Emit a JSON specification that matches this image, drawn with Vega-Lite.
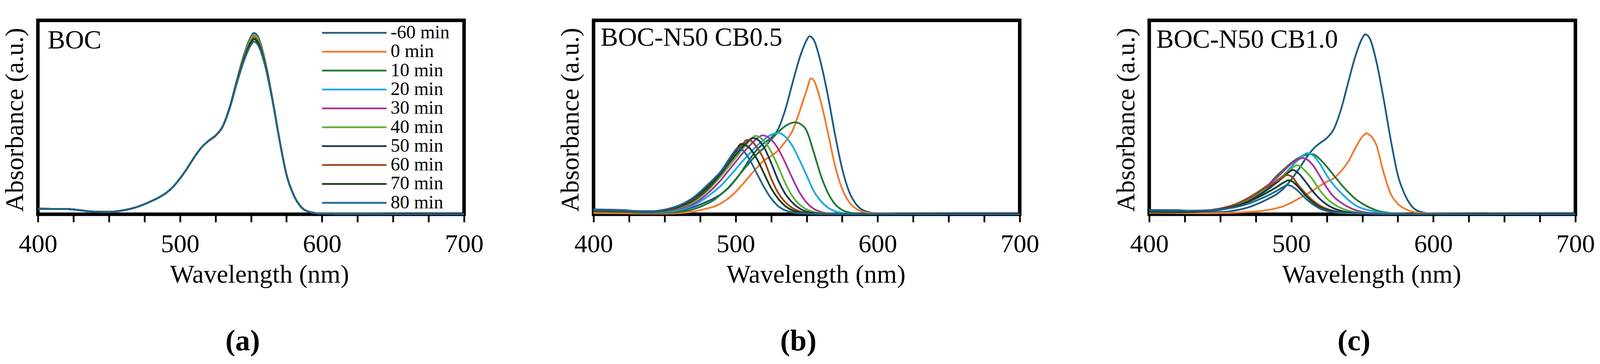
{
"$schema":"https://vega.github.io/schema/vega-lite/v6.json",
"padding":{"left":0,"top":47,"right":0,"bottom":0},
"config":{
"font":"Liberation Serif",
"view":{"stroke":"black","strokeWidth":9},
"axis":{"labelFont":"Liberation Serif","titleFont":"Liberation Serif","labelColor":"black","titleColor":"black","titleFontWeight":"normal","grid":false},
"axisX":{"domain":false,"tickSize":20,"tickWidth":4.5,"tickColor":"black","labelFontSize":66,"labelPadding":24,"labelFlush":false,"labelOverlap":false,"titleFontSize":66,"titlePadding":13},
"axisY":{"titleFontSize":66,"titlePadding":25},
"legend":{"symbolType":"stroke","symbolSize":27225,"symbolStrokeWidth":4.5,"clipHeight":48,"rowPadding":0.3,"labelFontSize":48,"labelFont":"Liberation Serif","labelColor":"black","labelOffset":8,"labelLimit":400,"padding":0},
"title":{"font":"Liberation Serif","color":"black"}
},
"datasets":{
"a":[
{"t":-60,"w":400,"v":0.028},{"t":-60,"w":420,"v":0.027},{"t":-60,"w":440,"v":0.013},{"t":-60,"w":450,"v":0.012},{"t":-60,"w":460,"v":0.02},{"t":-60,"w":470,"v":0.038},{"t":-60,"w":480,"v":0.068},{"t":-60,"w":485,"v":0.086},{"t":-60,"w":490,"v":0.108},{"t":-60,"w":495,"v":0.14},{"t":-60,"w":500,"v":0.184},{"t":-60,"w":505,"v":0.236},{"t":-60,"w":510,"v":0.293},{"t":-60,"w":515,"v":0.343},{"t":-60,"w":520,"v":0.378},{"t":-60,"w":525,"v":0.406},{"t":-60,"w":530,"v":0.452},{"t":-60,"w":535,"v":0.552},{"t":-60,"w":540,"v":0.69},{"t":-60,"w":545,"v":0.822},{"t":-60,"w":550,"v":0.916},{"t":-60,"w":552,"v":0.935},{"t":-60,"w":555,"v":0.915},{"t":-60,"w":560,"v":0.79},{"t":-60,"w":565,"v":0.6},{"t":-60,"w":570,"v":0.388},{"t":-60,"w":575,"v":0.204},{"t":-60,"w":580,"v":0.1},{"t":-60,"w":585,"v":0.04},{"t":-60,"w":590,"v":0.015},{"t":-60,"w":600,"v":0.003},{"t":-60,"w":620,"v":0.002},{"t":-60,"w":700,"v":0.001},
{"t":0,"w":400,"v":0.028},{"t":0,"w":420,"v":0.027},{"t":0,"w":440,"v":0.013},{"t":0,"w":450,"v":0.012},{"t":0,"w":460,"v":0.02},{"t":0,"w":470,"v":0.038},{"t":0,"w":480,"v":0.068},{"t":0,"w":485,"v":0.086},{"t":0,"w":490,"v":0.108},{"t":0,"w":495,"v":0.14},{"t":0,"w":500,"v":0.184},{"t":0,"w":505,"v":0.236},{"t":0,"w":510,"v":0.293},{"t":0,"w":515,"v":0.343},{"t":0,"w":520,"v":0.376},{"t":0,"w":525,"v":0.403},{"t":0,"w":530,"v":0.449},{"t":0,"w":535,"v":0.55},{"t":0,"w":540,"v":0.686},{"t":0,"w":545,"v":0.815},{"t":0,"w":550,"v":0.906},{"t":0,"w":552,"v":0.925},{"t":0,"w":555,"v":0.905},{"t":0,"w":560,"v":0.784},{"t":0,"w":565,"v":0.598},{"t":0,"w":570,"v":0.387},{"t":0,"w":575,"v":0.204},{"t":0,"w":580,"v":0.1},{"t":0,"w":585,"v":0.04},{"t":0,"w":590,"v":0.015},{"t":0,"w":600,"v":0.003},{"t":0,"w":620,"v":0.002},{"t":0,"w":700,"v":0.001},
{"t":10,"w":400,"v":0.028},{"t":10,"w":420,"v":0.027},{"t":10,"w":440,"v":0.013},{"t":10,"w":450,"v":0.012},{"t":10,"w":460,"v":0.02},{"t":10,"w":470,"v":0.038},{"t":10,"w":480,"v":0.068},{"t":10,"w":485,"v":0.086},{"t":10,"w":490,"v":0.108},{"t":10,"w":495,"v":0.14},{"t":10,"w":500,"v":0.184},{"t":10,"w":505,"v":0.236},{"t":10,"w":510,"v":0.293},{"t":10,"w":515,"v":0.343},{"t":10,"w":520,"v":0.378},{"t":10,"w":525,"v":0.406},{"t":10,"w":530,"v":0.452},{"t":10,"w":535,"v":0.552},{"t":10,"w":540,"v":0.688},{"t":10,"w":545,"v":0.812},{"t":10,"w":550,"v":0.902},{"t":10,"w":552,"v":0.92},{"t":10,"w":555,"v":0.901},{"t":10,"w":560,"v":0.781},{"t":10,"w":565,"v":0.598},{"t":10,"w":570,"v":0.388},{"t":10,"w":575,"v":0.204},{"t":10,"w":580,"v":0.1},{"t":10,"w":585,"v":0.04},{"t":10,"w":590,"v":0.015},{"t":10,"w":600,"v":0.003},{"t":10,"w":620,"v":0.002},{"t":10,"w":700,"v":0.001},
{"t":20,"w":400,"v":0.028},{"t":20,"w":420,"v":0.027},{"t":20,"w":440,"v":0.013},{"t":20,"w":450,"v":0.012},{"t":20,"w":460,"v":0.02},{"t":20,"w":470,"v":0.038},{"t":20,"w":480,"v":0.068},{"t":20,"w":485,"v":0.086},{"t":20,"w":490,"v":0.108},{"t":20,"w":495,"v":0.14},{"t":20,"w":500,"v":0.184},{"t":20,"w":505,"v":0.236},{"t":20,"w":510,"v":0.293},{"t":20,"w":515,"v":0.343},{"t":20,"w":520,"v":0.378},{"t":20,"w":525,"v":0.406},{"t":20,"w":530,"v":0.452},{"t":20,"w":535,"v":0.55},{"t":20,"w":540,"v":0.685},{"t":20,"w":545,"v":0.808},{"t":20,"w":550,"v":0.897},{"t":20,"w":552,"v":0.915},{"t":20,"w":555,"v":0.896},{"t":20,"w":560,"v":0.778},{"t":20,"w":565,"v":0.596},{"t":20,"w":570,"v":0.387},{"t":20,"w":575,"v":0.204},{"t":20,"w":580,"v":0.1},{"t":20,"w":585,"v":0.04},{"t":20,"w":590,"v":0.015},{"t":20,"w":600,"v":0.003},{"t":20,"w":620,"v":0.002},{"t":20,"w":700,"v":0.001},
{"t":30,"w":400,"v":0.028},{"t":30,"w":420,"v":0.027},{"t":30,"w":440,"v":0.013},{"t":30,"w":450,"v":0.012},{"t":30,"w":460,"v":0.02},{"t":30,"w":470,"v":0.038},{"t":30,"w":480,"v":0.068},{"t":30,"w":485,"v":0.086},{"t":30,"w":490,"v":0.108},{"t":30,"w":495,"v":0.14},{"t":30,"w":500,"v":0.184},{"t":30,"w":505,"v":0.236},{"t":30,"w":510,"v":0.293},{"t":30,"w":515,"v":0.343},{"t":30,"w":520,"v":0.378},{"t":30,"w":525,"v":0.406},{"t":30,"w":530,"v":0.452},{"t":30,"w":535,"v":0.551},{"t":30,"w":540,"v":0.687},{"t":30,"w":545,"v":0.81},{"t":30,"w":550,"v":0.9},{"t":30,"w":552,"v":0.918},{"t":30,"w":555,"v":0.899},{"t":30,"w":560,"v":0.78},{"t":30,"w":565,"v":0.597},{"t":30,"w":570,"v":0.388},{"t":30,"w":575,"v":0.204},{"t":30,"w":580,"v":0.1},{"t":30,"w":585,"v":0.04},{"t":30,"w":590,"v":0.015},{"t":30,"w":600,"v":0.003},{"t":30,"w":620,"v":0.002},{"t":30,"w":700,"v":0.001},
{"t":40,"w":400,"v":0.028},{"t":40,"w":420,"v":0.027},{"t":40,"w":440,"v":0.013},{"t":40,"w":450,"v":0.012},{"t":40,"w":460,"v":0.02},{"t":40,"w":470,"v":0.038},{"t":40,"w":480,"v":0.068},{"t":40,"w":485,"v":0.086},{"t":40,"w":490,"v":0.108},{"t":40,"w":495,"v":0.14},{"t":40,"w":500,"v":0.184},{"t":40,"w":505,"v":0.236},{"t":40,"w":510,"v":0.293},{"t":40,"w":515,"v":0.343},{"t":40,"w":520,"v":0.378},{"t":40,"w":525,"v":0.406},{"t":40,"w":530,"v":0.452},{"t":40,"w":535,"v":0.552},{"t":40,"w":540,"v":0.688},{"t":40,"w":545,"v":0.812},{"t":40,"w":550,"v":0.902},{"t":40,"w":552,"v":0.92},{"t":40,"w":555,"v":0.901},{"t":40,"w":560,"v":0.781},{"t":40,"w":565,"v":0.598},{"t":40,"w":570,"v":0.388},{"t":40,"w":575,"v":0.204},{"t":40,"w":580,"v":0.1},{"t":40,"w":585,"v":0.04},{"t":40,"w":590,"v":0.015},{"t":40,"w":600,"v":0.003},{"t":40,"w":620,"v":0.002},{"t":40,"w":700,"v":0.001},
{"t":50,"w":400,"v":0.028},{"t":50,"w":420,"v":0.027},{"t":50,"w":440,"v":0.013},{"t":50,"w":450,"v":0.012},{"t":50,"w":460,"v":0.02},{"t":50,"w":470,"v":0.038},{"t":50,"w":480,"v":0.068},{"t":50,"w":485,"v":0.086},{"t":50,"w":490,"v":0.108},{"t":50,"w":495,"v":0.14},{"t":50,"w":500,"v":0.184},{"t":50,"w":505,"v":0.236},{"t":50,"w":510,"v":0.293},{"t":50,"w":515,"v":0.343},{"t":50,"w":520,"v":0.378},{"t":50,"w":525,"v":0.406},{"t":50,"w":530,"v":0.452},{"t":50,"w":535,"v":0.548},{"t":50,"w":540,"v":0.68},{"t":50,"w":545,"v":0.801},{"t":50,"w":550,"v":0.888},{"t":50,"w":552,"v":0.905},{"t":50,"w":555,"v":0.887},{"t":50,"w":560,"v":0.772},{"t":50,"w":565,"v":0.594},{"t":50,"w":570,"v":0.386},{"t":50,"w":575,"v":0.204},{"t":50,"w":580,"v":0.1},{"t":50,"w":585,"v":0.04},{"t":50,"w":590,"v":0.015},{"t":50,"w":600,"v":0.003},{"t":50,"w":620,"v":0.002},{"t":50,"w":700,"v":0.001},
{"t":60,"w":400,"v":0.028},{"t":60,"w":420,"v":0.027},{"t":60,"w":440,"v":0.013},{"t":60,"w":450,"v":0.012},{"t":60,"w":460,"v":0.02},{"t":60,"w":470,"v":0.038},{"t":60,"w":480,"v":0.068},{"t":60,"w":485,"v":0.086},{"t":60,"w":490,"v":0.108},{"t":60,"w":495,"v":0.14},{"t":60,"w":500,"v":0.184},{"t":60,"w":505,"v":0.236},{"t":60,"w":510,"v":0.293},{"t":60,"w":515,"v":0.343},{"t":60,"w":520,"v":0.378},{"t":60,"w":525,"v":0.406},{"t":60,"w":530,"v":0.452},{"t":60,"w":535,"v":0.549},{"t":60,"w":540,"v":0.683},{"t":60,"w":545,"v":0.805},{"t":60,"w":550,"v":0.892},{"t":60,"w":552,"v":0.91},{"t":60,"w":555,"v":0.891},{"t":60,"w":560,"v":0.775},{"t":60,"w":565,"v":0.595},{"t":60,"w":570,"v":0.387},{"t":60,"w":575,"v":0.204},{"t":60,"w":580,"v":0.1},{"t":60,"w":585,"v":0.04},{"t":60,"w":590,"v":0.015},{"t":60,"w":600,"v":0.003},{"t":60,"w":620,"v":0.002},{"t":60,"w":700,"v":0.001},
{"t":70,"w":400,"v":0.028},{"t":70,"w":420,"v":0.027},{"t":70,"w":440,"v":0.013},{"t":70,"w":450,"v":0.012},{"t":70,"w":460,"v":0.02},{"t":70,"w":470,"v":0.038},{"t":70,"w":480,"v":0.068},{"t":70,"w":485,"v":0.086},{"t":70,"w":490,"v":0.108},{"t":70,"w":495,"v":0.14},{"t":70,"w":500,"v":0.184},{"t":70,"w":505,"v":0.236},{"t":70,"w":510,"v":0.293},{"t":70,"w":515,"v":0.343},{"t":70,"w":520,"v":0.378},{"t":70,"w":525,"v":0.406},{"t":70,"w":530,"v":0.452},{"t":70,"w":535,"v":0.547},{"t":70,"w":540,"v":0.679},{"t":70,"w":545,"v":0.799},{"t":70,"w":550,"v":0.885},{"t":70,"w":552,"v":0.902},{"t":70,"w":555,"v":0.884},{"t":70,"w":560,"v":0.77},{"t":70,"w":565,"v":0.593},{"t":70,"w":570,"v":0.386},{"t":70,"w":575,"v":0.204},{"t":70,"w":580,"v":0.1},{"t":70,"w":585,"v":0.04},{"t":70,"w":590,"v":0.015},{"t":70,"w":600,"v":0.003},{"t":70,"w":620,"v":0.002},{"t":70,"w":700,"v":0.001},
{"t":80,"w":400,"v":0.028},{"t":80,"w":420,"v":0.027},{"t":80,"w":440,"v":0.013},{"t":80,"w":450,"v":0.012},{"t":80,"w":460,"v":0.02},{"t":80,"w":470,"v":0.038},{"t":80,"w":480,"v":0.068},{"t":80,"w":485,"v":0.086},{"t":80,"w":490,"v":0.108},{"t":80,"w":495,"v":0.14},{"t":80,"w":500,"v":0.184},{"t":80,"w":505,"v":0.236},{"t":80,"w":510,"v":0.293},{"t":80,"w":515,"v":0.343},{"t":80,"w":520,"v":0.378},{"t":80,"w":525,"v":0.406},{"t":80,"w":530,"v":0.452},{"t":80,"w":535,"v":0.545},{"t":80,"w":540,"v":0.674},{"t":80,"w":545,"v":0.79},{"t":80,"w":550,"v":0.873},{"t":80,"w":552,"v":0.89},{"t":80,"w":555,"v":0.872},{"t":80,"w":560,"v":0.763},{"t":80,"w":565,"v":0.59},{"t":80,"w":570,"v":0.385},{"t":80,"w":575,"v":0.204},{"t":80,"w":580,"v":0.1},{"t":80,"w":585,"v":0.04},{"t":80,"w":590,"v":0.015},{"t":80,"w":600,"v":0.003},{"t":80,"w":620,"v":0.002},{"t":80,"w":700,"v":0.001}
],
"b":[
{"t":-60,"w":400,"v":0.025},{"t":-60,"w":420,"v":0.022},{"t":-60,"w":440,"v":0.01},{"t":-60,"w":450,"v":0.01},{"t":-60,"w":460,"v":0.018},{"t":-60,"w":470,"v":0.036},{"t":-60,"w":480,"v":0.066},{"t":-60,"w":485,"v":0.083},{"t":-60,"w":490,"v":0.105},{"t":-60,"w":495,"v":0.136},{"t":-60,"w":500,"v":0.178},{"t":-60,"w":505,"v":0.229},{"t":-60,"w":510,"v":0.284},{"t":-60,"w":515,"v":0.333},{"t":-60,"w":520,"v":0.367},{"t":-60,"w":525,"v":0.394},{"t":-60,"w":530,"v":0.44},{"t":-60,"w":535,"v":0.54},{"t":-60,"w":540,"v":0.675},{"t":-60,"w":545,"v":0.805},{"t":-60,"w":550,"v":0.898},{"t":-60,"w":552,"v":0.918},{"t":-60,"w":555,"v":0.9},{"t":-60,"w":560,"v":0.78},{"t":-60,"w":565,"v":0.61},{"t":-60,"w":570,"v":0.41},{"t":-60,"w":575,"v":0.235},{"t":-60,"w":580,"v":0.115},{"t":-60,"w":585,"v":0.05},{"t":-60,"w":590,"v":0.02},{"t":-60,"w":600,"v":0.004},{"t":-60,"w":620,"v":0.002},{"t":-60,"w":700,"v":0.001},
{"t":0,"w":400,"v":0.006},{"t":0,"w":420,"v":0.005},{"t":0,"w":440,"v":0.003},{"t":0,"w":450,"v":0.003},{"t":0,"w":460,"v":0.006},{"t":0,"w":470,"v":0.013},{"t":0,"w":480,"v":0.03},{"t":0,"w":485,"v":0.04},{"t":0,"w":490,"v":0.058},{"t":0,"w":495,"v":0.082},{"t":0,"w":500,"v":0.115},{"t":0,"w":505,"v":0.155},{"t":0,"w":510,"v":0.198},{"t":0,"w":515,"v":0.24},{"t":0,"w":520,"v":0.278},{"t":0,"w":525,"v":0.3},{"t":0,"w":530,"v":0.33},{"t":0,"w":535,"v":0.375},{"t":0,"w":540,"v":0.43},{"t":0,"w":545,"v":0.53},{"t":0,"w":550,"v":0.64},{"t":0,"w":553,"v":0.7},{"t":0,"w":555,"v":0.69},{"t":0,"w":560,"v":0.58},{"t":0,"w":565,"v":0.42},{"t":0,"w":570,"v":0.25},{"t":0,"w":575,"v":0.13},{"t":0,"w":580,"v":0.062},{"t":0,"w":585,"v":0.028},{"t":0,"w":590,"v":0.013},{"t":0,"w":600,"v":0.003},{"t":0,"w":620,"v":0.002},{"t":0,"w":700,"v":0.001},
{"t":10,"w":400,"v":0.015},{"t":10,"w":420,"v":0.012},{"t":10,"w":440,"v":0.006},{"t":10,"w":450,"v":0.007},{"t":10,"w":460,"v":0.012},{"t":10,"w":470,"v":0.025},{"t":10,"w":480,"v":0.055},{"t":10,"w":485,"v":0.075},{"t":10,"w":490,"v":0.105},{"t":10,"w":495,"v":0.138},{"t":10,"w":500,"v":0.18},{"t":10,"w":505,"v":0.225},{"t":10,"w":510,"v":0.268},{"t":10,"w":515,"v":0.31},{"t":10,"w":520,"v":0.343},{"t":10,"w":525,"v":0.385},{"t":10,"w":530,"v":0.424},{"t":10,"w":535,"v":0.455},{"t":10,"w":540,"v":0.472},{"t":10,"w":542,"v":0.474},{"t":10,"w":545,"v":0.468},{"t":10,"w":550,"v":0.43},{"t":10,"w":555,"v":0.32},{"t":10,"w":560,"v":0.2},{"t":10,"w":565,"v":0.11},{"t":10,"w":570,"v":0.052},{"t":10,"w":575,"v":0.022},{"t":10,"w":580,"v":0.009},{"t":10,"w":585,"v":0.004},{"t":10,"w":590,"v":0.002},{"t":10,"w":600,"v":0.001},{"t":10,"w":700,"v":0.001},
{"t":20,"w":400,"v":0.02},{"t":20,"w":420,"v":0.017},{"t":20,"w":440,"v":0.009},{"t":20,"w":450,"v":0.011},{"t":20,"w":460,"v":0.022},{"t":20,"w":470,"v":0.045},{"t":20,"w":480,"v":0.09},{"t":20,"w":485,"v":0.118},{"t":20,"w":490,"v":0.15},{"t":20,"w":495,"v":0.19},{"t":20,"w":500,"v":0.232},{"t":20,"w":505,"v":0.275},{"t":20,"w":510,"v":0.315},{"t":20,"w":515,"v":0.353},{"t":20,"w":520,"v":0.385},{"t":20,"w":525,"v":0.41},{"t":20,"w":530,"v":0.42},{"t":20,"w":535,"v":0.4},{"t":20,"w":540,"v":0.352},{"t":20,"w":545,"v":0.28},{"t":20,"w":550,"v":0.2},{"t":20,"w":555,"v":0.12},{"t":20,"w":560,"v":0.068},{"t":20,"w":565,"v":0.034},{"t":20,"w":570,"v":0.016},{"t":20,"w":575,"v":0.007},{"t":20,"w":580,"v":0.003},{"t":20,"w":590,"v":0.001},{"t":20,"w":600,"v":0.001},{"t":20,"w":700,"v":0.001},
{"t":30,"w":400,"v":0.018},{"t":30,"w":420,"v":0.015},{"t":30,"w":440,"v":0.01},{"t":30,"w":450,"v":0.014},{"t":30,"w":460,"v":0.027},{"t":30,"w":470,"v":0.052},{"t":30,"w":480,"v":0.105},{"t":30,"w":485,"v":0.14},{"t":30,"w":490,"v":0.18},{"t":30,"w":495,"v":0.225},{"t":30,"w":500,"v":0.27},{"t":30,"w":505,"v":0.315},{"t":30,"w":510,"v":0.355},{"t":30,"w":515,"v":0.39},{"t":30,"w":519,"v":0.407},{"t":30,"w":520,"v":0.406},{"t":30,"w":525,"v":0.385},{"t":30,"w":530,"v":0.337},{"t":30,"w":535,"v":0.265},{"t":30,"w":540,"v":0.185},{"t":30,"w":545,"v":0.112},{"t":30,"w":550,"v":0.06},{"t":30,"w":555,"v":0.028},{"t":30,"w":560,"v":0.012},{"t":30,"w":565,"v":0.005},{"t":30,"w":570,"v":0.002},{"t":30,"w":580,"v":0.001},{"t":30,"w":600,"v":0.001},{"t":30,"w":700,"v":0.001},
{"t":40,"w":400,"v":0.018},{"t":40,"w":420,"v":0.015},{"t":40,"w":440,"v":0.012},{"t":40,"w":450,"v":0.017},{"t":40,"w":460,"v":0.032},{"t":40,"w":470,"v":0.062},{"t":40,"w":480,"v":0.12},{"t":40,"w":485,"v":0.158},{"t":40,"w":490,"v":0.2},{"t":40,"w":495,"v":0.245},{"t":40,"w":500,"v":0.29},{"t":40,"w":505,"v":0.338},{"t":40,"w":510,"v":0.38},{"t":40,"w":514,"v":0.404},{"t":40,"w":515,"v":0.403},{"t":40,"w":520,"v":0.378},{"t":40,"w":525,"v":0.323},{"t":40,"w":530,"v":0.245},{"t":40,"w":535,"v":0.16},{"t":40,"w":540,"v":0.093},{"t":40,"w":545,"v":0.05},{"t":40,"w":550,"v":0.025},{"t":40,"w":555,"v":0.012},{"t":40,"w":560,"v":0.005},{"t":40,"w":570,"v":0.002},{"t":40,"w":580,"v":0.001},{"t":40,"w":600,"v":0.001},{"t":40,"w":700,"v":0.001},
{"t":50,"w":400,"v":0.018},{"t":50,"w":420,"v":0.015},{"t":50,"w":440,"v":0.013},{"t":50,"w":450,"v":0.019},{"t":50,"w":460,"v":0.036},{"t":50,"w":470,"v":0.07},{"t":50,"w":480,"v":0.128},{"t":50,"w":485,"v":0.168},{"t":50,"w":490,"v":0.212},{"t":50,"w":495,"v":0.26},{"t":50,"w":500,"v":0.305},{"t":50,"w":505,"v":0.348},{"t":50,"w":510,"v":0.385},{"t":50,"w":512,"v":0.393},{"t":50,"w":515,"v":0.387},{"t":50,"w":520,"v":0.345},{"t":50,"w":525,"v":0.265},{"t":50,"w":530,"v":0.175},{"t":50,"w":535,"v":0.105},{"t":50,"w":540,"v":0.06},{"t":50,"w":545,"v":0.03},{"t":50,"w":550,"v":0.014},{"t":50,"w":555,"v":0.006},{"t":50,"w":560,"v":0.003},{"t":50,"w":570,"v":0.001},{"t":50,"w":600,"v":0.001},{"t":50,"w":700,"v":0.001},
{"t":60,"w":400,"v":0.018},{"t":60,"w":420,"v":0.015},{"t":60,"w":440,"v":0.014},{"t":60,"w":450,"v":0.021},{"t":60,"w":460,"v":0.04},{"t":60,"w":470,"v":0.075},{"t":60,"w":480,"v":0.135},{"t":60,"w":485,"v":0.175},{"t":60,"w":490,"v":0.22},{"t":60,"w":495,"v":0.27},{"t":60,"w":500,"v":0.32},{"t":60,"w":505,"v":0.362},{"t":60,"w":508,"v":0.384},{"t":60,"w":510,"v":0.382},{"t":60,"w":515,"v":0.345},{"t":60,"w":520,"v":0.28},{"t":60,"w":525,"v":0.185},{"t":60,"w":530,"v":0.11},{"t":60,"w":535,"v":0.062},{"t":60,"w":540,"v":0.032},{"t":60,"w":545,"v":0.015},{"t":60,"w":550,"v":0.007},{"t":60,"w":555,"v":0.003},{"t":60,"w":560,"v":0.002},{"t":60,"w":600,"v":0.001},{"t":60,"w":700,"v":0.001},
{"t":70,"w":400,"v":0.02},{"t":70,"w":420,"v":0.017},{"t":70,"w":440,"v":0.015},{"t":70,"w":450,"v":0.022},{"t":70,"w":460,"v":0.042},{"t":70,"w":470,"v":0.08},{"t":70,"w":480,"v":0.14},{"t":70,"w":485,"v":0.178},{"t":70,"w":490,"v":0.222},{"t":70,"w":495,"v":0.275},{"t":70,"w":500,"v":0.325},{"t":70,"w":504,"v":0.363},{"t":70,"w":505,"v":0.362},{"t":70,"w":510,"v":0.34},{"t":70,"w":515,"v":0.285},{"t":70,"w":520,"v":0.21},{"t":70,"w":525,"v":0.135},{"t":70,"w":530,"v":0.08},{"t":70,"w":535,"v":0.042},{"t":70,"w":540,"v":0.02},{"t":70,"w":545,"v":0.01},{"t":70,"w":550,"v":0.005},{"t":70,"w":560,"v":0.002},{"t":70,"w":600,"v":0.001},{"t":70,"w":700,"v":0.001},
{"t":80,"w":400,"v":0.022},{"t":80,"w":420,"v":0.019},{"t":80,"w":440,"v":0.016},{"t":80,"w":450,"v":0.024},{"t":80,"w":460,"v":0.045},{"t":80,"w":470,"v":0.085},{"t":80,"w":480,"v":0.15},{"t":80,"w":485,"v":0.185},{"t":80,"w":490,"v":0.225},{"t":80,"w":495,"v":0.28},{"t":80,"w":500,"v":0.332},{"t":80,"w":501,"v":0.34},{"t":80,"w":505,"v":0.33},{"t":80,"w":510,"v":0.28},{"t":80,"w":515,"v":0.21},{"t":80,"w":520,"v":0.14},{"t":80,"w":525,"v":0.082},{"t":80,"w":530,"v":0.042},{"t":80,"w":535,"v":0.02},{"t":80,"w":540,"v":0.01},{"t":80,"w":545,"v":0.005},{"t":80,"w":550,"v":0.003},{"t":80,"w":560,"v":0.001},{"t":80,"w":600,"v":0.001},{"t":80,"w":700,"v":0.001}
],
"c":[
{"t":-60,"w":400,"v":0.022},{"t":-60,"w":420,"v":0.021},{"t":-60,"w":440,"v":0.011},{"t":-60,"w":450,"v":0.011},{"t":-60,"w":460,"v":0.019},{"t":-60,"w":470,"v":0.036},{"t":-60,"w":480,"v":0.066},{"t":-60,"w":485,"v":0.084},{"t":-60,"w":490,"v":0.105},{"t":-60,"w":495,"v":0.136},{"t":-60,"w":500,"v":0.179},{"t":-60,"w":505,"v":0.23},{"t":-60,"w":510,"v":0.285},{"t":-60,"w":515,"v":0.333},{"t":-60,"w":520,"v":0.366},{"t":-60,"w":525,"v":0.393},{"t":-60,"w":530,"v":0.44},{"t":-60,"w":535,"v":0.54},{"t":-60,"w":540,"v":0.678},{"t":-60,"w":545,"v":0.812},{"t":-60,"w":550,"v":0.908},{"t":-60,"w":552,"v":0.928},{"t":-60,"w":555,"v":0.91},{"t":-60,"w":560,"v":0.785},{"t":-60,"w":565,"v":0.595},{"t":-60,"w":570,"v":0.385},{"t":-60,"w":575,"v":0.202},{"t":-60,"w":580,"v":0.1},{"t":-60,"w":585,"v":0.04},{"t":-60,"w":590,"v":0.015},{"t":-60,"w":600,"v":0.003},{"t":-60,"w":620,"v":0.002},{"t":-60,"w":700,"v":0.001},
{"t":0,"w":400,"v":0.008},{"t":0,"w":420,"v":0.006},{"t":0,"w":440,"v":0.005},{"t":0,"w":450,"v":0.006},{"t":0,"w":460,"v":0.008},{"t":0,"w":470,"v":0.012},{"t":0,"w":480,"v":0.018},{"t":0,"w":485,"v":0.024},{"t":0,"w":490,"v":0.032},{"t":0,"w":495,"v":0.043},{"t":0,"w":500,"v":0.06},{"t":0,"w":505,"v":0.08},{"t":0,"w":510,"v":0.1},{"t":0,"w":515,"v":0.122},{"t":0,"w":520,"v":0.146},{"t":0,"w":525,"v":0.168},{"t":0,"w":530,"v":0.186},{"t":0,"w":535,"v":0.222},{"t":0,"w":540,"v":0.27},{"t":0,"w":545,"v":0.34},{"t":0,"w":550,"v":0.4},{"t":0,"w":553,"v":0.417},{"t":0,"w":555,"v":0.41},{"t":0,"w":560,"v":0.355},{"t":0,"w":565,"v":0.215},{"t":0,"w":570,"v":0.105},{"t":0,"w":575,"v":0.054},{"t":0,"w":580,"v":0.028},{"t":0,"w":585,"v":0.014},{"t":0,"w":590,"v":0.007},{"t":0,"w":600,"v":0.003},{"t":0,"w":620,"v":0.002},{"t":0,"w":700,"v":0.001},
{"t":10,"w":400,"v":0.012},{"t":10,"w":420,"v":0.01},{"t":10,"w":440,"v":0.016},{"t":10,"w":450,"v":0.025},{"t":10,"w":460,"v":0.04},{"t":10,"w":470,"v":0.074},{"t":10,"w":480,"v":0.125},{"t":10,"w":485,"v":0.16},{"t":10,"w":490,"v":0.2},{"t":10,"w":495,"v":0.233},{"t":10,"w":500,"v":0.265},{"t":10,"w":505,"v":0.29},{"t":10,"w":510,"v":0.305},{"t":10,"w":515,"v":0.31},{"t":10,"w":520,"v":0.285},{"t":10,"w":525,"v":0.245},{"t":10,"w":530,"v":0.2},{"t":10,"w":535,"v":0.155},{"t":10,"w":540,"v":0.115},{"t":10,"w":545,"v":0.08},{"t":10,"w":550,"v":0.055},{"t":10,"w":555,"v":0.035},{"t":10,"w":560,"v":0.02},{"t":10,"w":565,"v":0.011},{"t":10,"w":570,"v":0.006},{"t":10,"w":575,"v":0.003},{"t":10,"w":580,"v":0.002},{"t":10,"w":590,"v":0.001},{"t":10,"w":600,"v":0.001},{"t":10,"w":700,"v":0.001},
{"t":20,"w":400,"v":0.015},{"t":20,"w":420,"v":0.012},{"t":20,"w":440,"v":0.015},{"t":20,"w":450,"v":0.022},{"t":20,"w":460,"v":0.038},{"t":20,"w":470,"v":0.07},{"t":20,"w":480,"v":0.11},{"t":20,"w":485,"v":0.135},{"t":20,"w":490,"v":0.168},{"t":20,"w":495,"v":0.205},{"t":20,"w":500,"v":0.245},{"t":20,"w":505,"v":0.282},{"t":20,"w":510,"v":0.312},{"t":20,"w":511,"v":0.315},{"t":20,"w":515,"v":0.305},{"t":20,"w":520,"v":0.262},{"t":20,"w":525,"v":0.2},{"t":20,"w":530,"v":0.15},{"t":20,"w":535,"v":0.11},{"t":20,"w":540,"v":0.075},{"t":20,"w":545,"v":0.047},{"t":20,"w":550,"v":0.03},{"t":20,"w":555,"v":0.02},{"t":20,"w":560,"v":0.012},{"t":20,"w":565,"v":0.007},{"t":20,"w":570,"v":0.004},{"t":20,"w":580,"v":0.002},{"t":20,"w":590,"v":0.001},{"t":20,"w":600,"v":0.001},{"t":20,"w":700,"v":0.001},
{"t":30,"w":400,"v":0.015},{"t":30,"w":420,"v":0.013},{"t":30,"w":440,"v":0.018},{"t":30,"w":450,"v":0.028},{"t":30,"w":460,"v":0.045},{"t":30,"w":470,"v":0.08},{"t":30,"w":480,"v":0.132},{"t":30,"w":485,"v":0.158},{"t":30,"w":490,"v":0.19},{"t":30,"w":495,"v":0.226},{"t":30,"w":500,"v":0.26},{"t":30,"w":505,"v":0.283},{"t":30,"w":508,"v":0.29},{"t":30,"w":510,"v":0.287},{"t":30,"w":515,"v":0.255},{"t":30,"w":520,"v":0.198},{"t":30,"w":525,"v":0.137},{"t":30,"w":530,"v":0.09},{"t":30,"w":535,"v":0.06},{"t":30,"w":540,"v":0.038},{"t":30,"w":545,"v":0.022},{"t":30,"w":550,"v":0.012},{"t":30,"w":555,"v":0.007},{"t":30,"w":560,"v":0.004},{"t":30,"w":570,"v":0.002},{"t":30,"w":600,"v":0.001},{"t":30,"w":700,"v":0.001},
{"t":40,"w":400,"v":0.015},{"t":40,"w":420,"v":0.013},{"t":40,"w":440,"v":0.017},{"t":40,"w":450,"v":0.025},{"t":40,"w":460,"v":0.042},{"t":40,"w":470,"v":0.072},{"t":40,"w":480,"v":0.118},{"t":40,"w":485,"v":0.145},{"t":40,"w":490,"v":0.175},{"t":40,"w":495,"v":0.205},{"t":40,"w":500,"v":0.235},{"t":40,"w":504,"v":0.253},{"t":40,"w":505,"v":0.252},{"t":40,"w":510,"v":0.222},{"t":40,"w":515,"v":0.18},{"t":40,"w":520,"v":0.125},{"t":40,"w":525,"v":0.081},{"t":40,"w":530,"v":0.052},{"t":40,"w":535,"v":0.032},{"t":40,"w":540,"v":0.019},{"t":40,"w":545,"v":0.011},{"t":40,"w":550,"v":0.006},{"t":40,"w":560,"v":0.003},{"t":40,"w":570,"v":0.002},{"t":40,"w":600,"v":0.001},{"t":40,"w":700,"v":0.001},
{"t":50,"w":400,"v":0.014},{"t":50,"w":420,"v":0.012},{"t":50,"w":440,"v":0.016},{"t":50,"w":450,"v":0.024},{"t":50,"w":460,"v":0.04},{"t":50,"w":470,"v":0.068},{"t":50,"w":480,"v":0.112},{"t":50,"w":485,"v":0.138},{"t":50,"w":490,"v":0.165},{"t":50,"w":495,"v":0.195},{"t":50,"w":500,"v":0.226},{"t":50,"w":501,"v":0.229},{"t":50,"w":505,"v":0.212},{"t":50,"w":510,"v":0.168},{"t":50,"w":515,"v":0.12},{"t":50,"w":520,"v":0.08},{"t":50,"w":525,"v":0.05},{"t":50,"w":530,"v":0.03},{"t":50,"w":535,"v":0.018},{"t":50,"w":540,"v":0.01},{"t":50,"w":545,"v":0.006},{"t":50,"w":550,"v":0.004},{"t":50,"w":560,"v":0.002},{"t":50,"w":600,"v":0.001},{"t":50,"w":700,"v":0.001},
{"t":60,"w":400,"v":0.016},{"t":60,"w":420,"v":0.014},{"t":60,"w":440,"v":0.02},{"t":60,"w":450,"v":0.03},{"t":60,"w":460,"v":0.05},{"t":60,"w":470,"v":0.085},{"t":60,"w":480,"v":0.13},{"t":60,"w":485,"v":0.15},{"t":60,"w":490,"v":0.172},{"t":60,"w":495,"v":0.195},{"t":60,"w":497,"v":0.202},{"t":60,"w":500,"v":0.196},{"t":60,"w":505,"v":0.15},{"t":60,"w":510,"v":0.108},{"t":60,"w":515,"v":0.072},{"t":60,"w":520,"v":0.045},{"t":60,"w":525,"v":0.028},{"t":60,"w":530,"v":0.017},{"t":60,"w":535,"v":0.01},{"t":60,"w":540,"v":0.006},{"t":60,"w":550,"v":0.003},{"t":60,"w":560,"v":0.002},{"t":60,"w":600,"v":0.001},{"t":60,"w":700,"v":0.001},
{"t":70,"w":400,"v":0.015},{"t":70,"w":420,"v":0.013},{"t":70,"w":440,"v":0.018},{"t":70,"w":450,"v":0.026},{"t":70,"w":460,"v":0.04},{"t":70,"w":470,"v":0.065},{"t":70,"w":480,"v":0.1},{"t":70,"w":485,"v":0.12},{"t":70,"w":490,"v":0.142},{"t":70,"w":495,"v":0.165},{"t":70,"w":498,"v":0.175},{"t":70,"w":500,"v":0.172},{"t":70,"w":505,"v":0.14},{"t":70,"w":510,"v":0.098},{"t":70,"w":515,"v":0.063},{"t":70,"w":520,"v":0.038},{"t":70,"w":525,"v":0.023},{"t":70,"w":530,"v":0.014},{"t":70,"w":535,"v":0.008},{"t":70,"w":540,"v":0.005},{"t":70,"w":550,"v":0.003},{"t":70,"w":560,"v":0.002},{"t":70,"w":600,"v":0.001},{"t":70,"w":700,"v":0.001},
{"t":80,"w":400,"v":0.02},{"t":80,"w":420,"v":0.018},{"t":80,"w":440,"v":0.02},{"t":80,"w":450,"v":0.025},{"t":80,"w":460,"v":0.035},{"t":80,"w":470,"v":0.055},{"t":80,"w":480,"v":0.085},{"t":80,"w":485,"v":0.102},{"t":80,"w":490,"v":0.122},{"t":80,"w":495,"v":0.143},{"t":80,"w":497,"v":0.15},{"t":80,"w":500,"v":0.146},{"t":80,"w":505,"v":0.118},{"t":80,"w":510,"v":0.082},{"t":80,"w":515,"v":0.052},{"t":80,"w":520,"v":0.03},{"t":80,"w":525,"v":0.017},{"t":80,"w":530,"v":0.01},{"t":80,"w":535,"v":0.006},{"t":80,"w":540,"v":0.004},{"t":80,"w":550,"v":0.003},{"t":80,"w":560,"v":0.002},{"t":80,"w":600,"v":0.001},{"t":80,"w":700,"v":0.001}
]
},
"spacing":180.5,
"hconcat":[
{"title":{"text":"(a)","orient":"bottom","anchor":"middle","fontSize":76,"fontWeight":"bold","offset":96},
"vconcat":[{"data":{"name":"a"},"width":1091,"height":496,
"title":{"text":"BOC","orient":"top","anchor":"start","frame":"group","dx":25,"offset":-139,"baseline":"alphabetic","fontSize":67,"fontWeight":"normal"},
"mark":{"type":"line","interpolate":"monotone","strokeWidth":4.5},
"encoding":{
"x":{"field":"w","type":"quantitative","title":"Wavelength (nm)","scale":{"domain":[400,700],"nice":false,"zero":false},"axis":{"values":[400,425,450,475,500,525,550,575,600,625,650,675,700],"labelExpr":"datum.value % 100 === 0 ? datum.label : ''","titleX":567}},
"y":{"field":"v","type":"quantitative","title":"Absorbance (a.u.)","scale":{"domain":[0,1],"nice":false},"axis":{"labels":false,"ticks":false,"domain":false,"grid":false,"titleY":254}},
"color":{"field":"t","type":"nominal","scale":{"domain":[-60,0,10,20,30,40,50,60,70,80],"range":["#1d5b84","#f27a2e","#1f7a32","#1fa8df","#a5359f","#5cb532","#1b3754","#9c431a","#173d17","#1e6690"]},"legend":{"orient":"none","legendX":725,"legendY":8,"title":null,"labelExpr":"datum.label + ' min'"}}
}}]},
{"title":{"text":"(b)","orient":"bottom","anchor":"middle","fontSize":76,"fontWeight":"bold","offset":96},
"vconcat":[{"data":{"name":"b"},"width":1091,"height":496,
"title":{"text":"BOC-N50 CB0.5","orient":"top","anchor":"start","frame":"group","dx":18,"offset":-132,"baseline":"alphabetic","fontSize":67,"fontWeight":"normal"},
"mark":{"type":"line","interpolate":"monotone","strokeWidth":4.5},
"encoding":{
"x":{"field":"w","type":"quantitative","title":"Wavelength (nm)","scale":{"domain":[400,700],"nice":false,"zero":false},"axis":{"values":[400,425,450,475,500,525,550,575,600,625,650,675,700],"labelExpr":"datum.value % 100 === 0 ? datum.label : ''","titleX":569}},
"y":{"field":"v","type":"quantitative","title":"Absorbance (a.u.)","scale":{"domain":[0,1],"nice":false},"axis":{"labels":false,"ticks":false,"domain":false,"grid":false,"titleY":254}},
"color":{"field":"t","type":"nominal","scale":{"domain":[-60,0,10,20,30,40,50,60,70,80],"range":["#1d5b84","#f27a2e","#1f7a32","#1fa8df","#a5359f","#5cb532","#1b3754","#9c431a","#173d17","#1e6690"]},"legend":{"orient":"none","legendX":735,"legendY":8,"title":null,"labelExpr":"datum.label + ' min'"}}
}}]},
{"title":{"text":"(c)","orient":"bottom","anchor":"middle","fontSize":76,"fontWeight":"bold","offset":96},
"vconcat":[{"data":{"name":"c"},"width":1091,"height":496,
"title":{"text":"BOC-N50 CB1.0","orient":"top","anchor":"start","frame":"group","dx":18,"offset":-137,"baseline":"alphabetic","fontSize":67,"fontWeight":"normal"},
"mark":{"type":"line","interpolate":"monotone","strokeWidth":4.5},
"encoding":{
"x":{"field":"w","type":"quantitative","title":"Wavelength (nm)","scale":{"domain":[400,700],"nice":false,"zero":false},"axis":{"values":[400,425,450,475,500,525,550,575,600,625,650,675,700],"labelExpr":"datum.value % 100 === 0 ? datum.label : ''","titleX":569}},
"y":{"field":"v","type":"quantitative","title":"Absorbance (a.u.)","scale":{"domain":[0,1],"nice":false},"axis":{"labels":false,"ticks":false,"domain":false,"grid":false,"titleY":254}},
"color":{"field":"t","type":"nominal","scale":{"domain":[-60,0,10,20,30,40,50,60,70,80],"range":["#1d5b84","#f27a2e","#1f7a32","#1fa8df","#a5359f","#5cb532","#1b3754","#9c431a","#173d17","#1e6690"]},"legend":{"orient":"none","legendX":744,"legendY":8,"title":null,"labelExpr":"datum.label + ' min'"}}
}}]}
],
"resolve":{"scale":{"color":"shared"}}
}
